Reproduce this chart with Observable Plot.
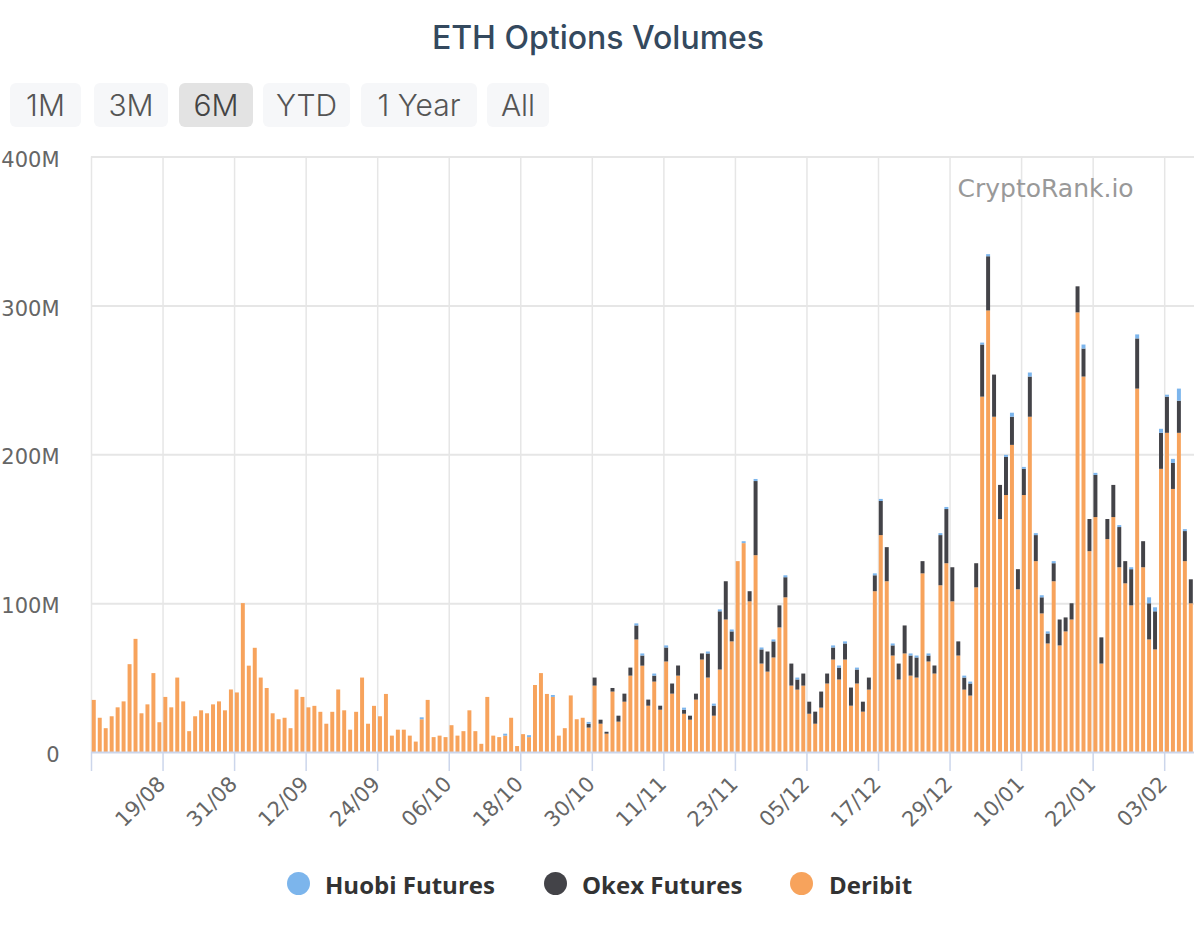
<!DOCTYPE html>
<html>
<head>
<meta charset="utf-8">
<script src="https://cdn.jsdelivr.net/npm/d3@7"></script>
<script src="https://cdn.jsdelivr.net/npm/@observablehq/plot@0.6"></script>
<style>
  body { margin: 0; background: #fff; }
  #wrap { position: relative; width: 1196px; height: 938px; overflow: hidden; }
  #title { position: absolute; left: 0; top: 18px; width: 1196px; text-align: center;
           font: 500 32px Inter, "Noto Sans", sans-serif; line-height: 40px; color: #34495e; }
  .btn { position: absolute; top: 83px; height: 44px; box-sizing: border-box; padding-top: 4px;
         line-height: 44px; text-align: center; overflow: hidden;
         background: #f6f7f9; border-radius: 6px; font: 300 30px Inter, "Noto Sans", sans-serif; color: #555; }
  .btn.sel { background: #e3e3e3; color: #444; }
  #chart { position: absolute; left: 0; top: 140px; }
  .dot { position: absolute; top: 872px; width: 23px; height: 23px; border-radius: 50%; }
  .lt { position: absolute; top: 868px; line-height: 33px; font: 700 24px "Open Sans", sans-serif; color: #333; white-space: nowrap; }
</style>
</head>
<body>
<div id="wrap">
  <div id="title"></div>
  <div id="buttons"></div>
  <div id="chart"></div>
  <div id="legend"></div>
</div>
<script>
// ---------- data ----------
const titleText = "ETH Options Volumes";
const rangeButtons = ["1M", "3M", "6M", "YTD", "1 Year", "All"];
const selectedButton = "6M";
const watermark = "CryptoRank.io";

const startDate = "2020-08-07"; // first daily bar
const seriesNames = ["Huobi Futures", "Okex Futures", "Deribit"];
const seriesColors = ["#7cb5ec", "#434348", "#f7a35c"];
const stackOrder = ["Deribit", "Okex Futures", "Huobi Futures"];

const yTicks = [0, 100, 200, 300, 400]; // millions USD
const tickDateStrings = ["2020-08-07", "2020-08-19", "2020-08-31", "2020-09-12", "2020-09-24",
  "2020-10-06", "2020-10-18", "2020-10-30", "2020-11-11", "2020-11-23", "2020-12-05",
  "2020-12-17", "2020-12-29", "2021-01-10", "2021-01-22", "2021-02-03"];

// daily volumes, millions USD
const deribit = [
  35, 23, 16, 24, 30, 34, 59, 76, 26, 32,
  53, 20, 37, 30, 50, 34, 14, 24, 28, 26,
  32, 34, 28, 42, 40, 100, 58, 70, 50, 43,
  26, 22, 23, 16, 42, 37, 30, 31, 27, 19,
  27, 42, 28, 15, 27, 50, 19, 31, 24, 39,
  11, 15, 15, 11, 7, 22, 35, 10, 11, 10,
  18, 11, 14, 28, 14, 5.5, 37, 11, 10, 11,
  23, 4, 12, 10, 45, 53, 39, 37, 11, 16,
  38, 22, 23,
  16.4, 44.6, 19, 12.3, 40.6, 20.4, 33.8, 51.3, 75.6, 58,
  31.1, 47.3, 28.4, 60.8, 39.2, 51.3, 25.7, 21.7, 35.2, 62.1,
  50, 24.4, 55.4, 89, 74.3, 128.2, 140.3, 101.2, 132.2, 59.4,
  54, 63.5, 83.7, 103.9, 44.6, 41.9, 44.6, 25.7, 19, 29.8,
  46, 62.1, 48.7, 62.1, 31.1, 46, 27.1, 41.9, 108, 145.7,
  114.7, 64.8, 48.7, 66.2, 51.3, 50, 120, 60.8, 52.7, 112,
  126.8, 101.2, 64.8, 41.9, 37.9, 110.6, 238.7, 296.6, 225.2, 156.5,
  172.6, 206.3, 109.3, 172.6, 225.2, 128.2, 93.1, 72.9, 114.7, 71.6,
  81, 89, 295.3, 252.2, 134.9, 157.8, 59.4, 143, 157.8, 124.1,
  113.3, 98.5, 244.1, 124.1, 75.6, 68.9, 190.2, 214.4, 176.7, 214.4,
  128.2, 99.9
];
const okex = [
  0, 0, 0, 0, 0, 0, 0, 0, 0, 0,
  0, 0, 0, 0, 0, 0, 0, 0, 0, 0,
  0, 0, 0, 0, 0, 0, 0, 0, 0, 0,
  0, 0, 0, 0, 0, 0, 0, 0, 0, 0,
  0, 0, 0, 0, 0, 0, 0, 0, 0, 0,
  0, 0, 0, 0, 0, 0, 0, 0, 0, 0,
  0, 0, 0, 0, 0, 0, 0, 0, 0, 0,
  0, 0, 0, 0, 0, 0, 0, 0, 0, 0,
  0, 0, 0,
  2.5, 5.4, 2.7, 1.3, 2.4, 4, 5.4, 5.4, 9.4, 6.8,
  4.1, 4, 2.7, 9.4, 6.8, 6.8, 2.7, 2.7, 4, 4.1,
  16.2, 6.7, 39.1, 25.7, 6.7, 0, 0, 6.8, 49.8, 9.5,
  13.5, 10.8, 14.8, 13.5, 14.8, 6.8, 8.1, 8.1, 8.1, 10.8,
  6.7, 8.1, 8, 10.8, 12.2, 9.4, 6.7, 8.1, 10.7, 22.9,
  22.9, 6.8, 10.7, 18.8, 13.5, 13.5, 8.2, 4, 5.4, 33.7,
  36.4, 22.9, 9.5, 8.1, 8.1, 16.2, 35, 36.4, 28.3, 22.9,
  25.6, 18.9, 13.5, 17.6, 27, 17.5, 10.8, 6.7, 12.1, 17.4,
  9.4, 10.9, 17.5, 18.8, 21.6, 28.3, 17.6, 13.5, 21.6, 27,
  14.9, 24.3, 33.7, 17.5, 24.3, 25.6, 24.2, 24.3, 17.5, 21.6,
  20.2, 16.1
];
const huobi = [
  0, 0, 0, 0, 0, 0, 0, 0, 0, 0,
  0, 0, 0, 0, 0, 0, 0, 0, 0, 0,
  0, 0, 0, 0, 0, 0, 0, 0, 0, 0,
  0, 0, 0, 0, 0, 0, 0, 0, 0, 0,
  0, 0, 0, 0, 0, 0, 0, 0, 0, 0,
  0, 0, 0, 0, 0, 1.3, 0, 0, 0, 0,
  0, 0, 0, 0, 0, 0, 0, 0, 0, 1.3,
  0, 0, 0, 1.3, 0, 0, 0, 1.3, 0, 0,
  0, 0, 0,
  1.3, 0, 0, 0, 0, 0, 0, 0, 1.4, 1.4,
  0, 1.4, 0, 1.4, 0, 0, 1.4, 0, 0, 0,
  1.3, 1.4, 1.3, 0, 1.3, 0, 1.3, 0, 1.4, 1.3,
  0, 1.3, 0, 1.3, 0, 1.3, 0, 0, 0, 0,
  0, 1.4, 1.4, 1.4, 0, 1.3, 0, 0, 1.3, 1.4,
  0, 1.3, 0, 0, 1.4, 1.3, 0, 1.4, 0, 1.3,
  1.4, 0, 0, 1.3, 1.3, 0, 1.3, 1.4, 0, 0,
  1.4, 2.7, 0, 1.3, 2.7, 1.3, 1.4, 1.4, 1.4, 0,
  0, 0, 0, 2.7, 0, 1.4, 0, 0, 0, 1.3,
  0, 1.3, 2.7, 0, 4, 2.7, 2.7, 1.3, 2.7, 8.1,
  1.3, 0
];

// ---------- build ----------
document.getElementById("title").textContent = titleText;

const btnLefts = [10, 94, 179, 263, 361, 487];
const btnWidths = [71, 74, 74, 87, 116, 62];
const btnWrap = document.getElementById("buttons");
rangeButtons.forEach((b, i) => {
  const el = document.createElement("div");
  el.className = "btn" + (b === selectedButton ? " sel" : "");
  el.style.left = btnLefts[i] + "px";
  el.style.width = btnWidths[i] + "px";
  el.textContent = b;
  btnWrap.appendChild(el);
});

const legendDotLeft = [286.5, 543.5, 790];
const legendTextLeft = [325, 582, 829];
const legWrap = document.getElementById("legend");
seriesNames.forEach((s, i) => {
  const d = document.createElement("div");
  d.className = "dot";
  d.style.left = legendDotLeft[i] + "px";
  d.style.background = seriesColors[i];
  legWrap.appendChild(d);
  const t = document.createElement("div");
  t.className = "lt";
  t.style.left = legendTextLeft[i] + "px";
  t.textContent = s;
  legWrap.appendChild(t);
});

const start = new Date(startDate);
const dates = deribit.map((_, i) => d3.utcDay.offset(start, i));
const data = [];
[["Deribit", deribit], ["Okex Futures", okex], ["Huobi Futures", huobi]].forEach(([name, arr]) => {
  arr.forEach((v, i) => data.push({date: dates[i], series: name, value: v}));
});
const tickDates = tickDateStrings.map(s => new Date(s));
const fmt = d3.utcFormat("%d/%m");

const chart = Plot.plot({
  width: 1196,
  height: 720,
  marginLeft: 91,
  marginRight: 2,
  marginTop: 16.5,
  marginBottom: 108,
  style: {fontFamily: "DejaVu Sans", background: "transparent"},
  x: {type: "utc", domain: [start, d3.utcDay.offset(start, deribit.length)], axis: null},
  y: {domain: [0, 400], axis: null},
  color: {domain: seriesNames, range: seriesColors},
  marks: [
    Plot.ruleY(yTicks.filter(d => d > 0), {stroke: "#e6e6e6", strokeWidth: 2}),
    Plot.ruleX(tickDates, {y1: 0, y2: 400, stroke: "#e6e6e6", strokeWidth: 1.5}),
    Plot.rectY(data, {
      x: "date", interval: "day", y: "value", fill: "series",
      order: stackOrder, insetLeft: 0.8, insetRight: 1.2
    }),
    Plot.ruleY([0], {stroke: "#ccd6eb", strokeWidth: 2}),
    Plot.ruleX(tickDates, {y1: 0, y2: 0, insetBottom: -19, stroke: "#ccd6eb", strokeWidth: 1.5}),
    Plot.text(yTicks, {
      y: d => d, frameAnchor: "left", textAnchor: "end", dx: -32, dy: 3,
      text: d => d === 0 ? "0" : `${d}M`, fontSize: 21, fill: "#666"
    }),
    Plot.text(tickDates.slice(1), {
      x: d => d, frameAnchor: "bottom", text: d => fmt(d), rotate: -45,
      textAnchor: "end", lineAnchor: "middle", dx: -1, dy: 28, fontSize: 21, fill: "#666"
    }),
    Plot.text([watermark], {
      frameAnchor: "top-left", dx: 866, dy: 32, textAnchor: "start", lineAnchor: "middle",
      fontSize: 25, fill: "#999", text: d => d
    })
  ]
});
document.getElementById("chart").appendChild(chart);
</script>
</body>
</html>
